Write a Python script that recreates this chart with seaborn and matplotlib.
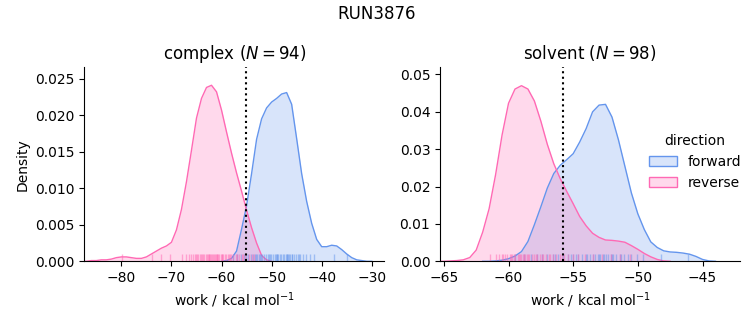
import matplotlib
matplotlib.use("Agg")
import matplotlib.pyplot as plt
from matplotlib.colors import to_rgba
from matplotlib.patches import Patch
import numpy as np
import pandas as pd
import seaborn as sns

# ---------------------------------------------------------------- data
directions = ["forward", "reverse"]
palette = {"forward": "cornflowerblue", "reverse": "hotpink"}

# complex phase: density curves (work in kcal/mol)
complex_reverse_x = list(range(-88, -49))
complex_reverse_density = [
    0.0000, 0.0000, 0.0001, 0.0001, 0.0002, 0.0002, 0.0003, 0.0005, 0.0006, 0.0006,
    0.0005, 0.0004, 0.0004, 0.0006, 0.0010, 0.0014, 0.0018, 0.0021, 0.0026, 0.0043,
    0.0071, 0.0109, 0.0152, 0.0196, 0.0223, 0.0238, 0.0241, 0.0232, 0.0207, 0.0177,
    0.0148, 0.0121, 0.0096, 0.0070, 0.0046, 0.0025, 0.0008, 0.0002, 0.0000,
]
complex_forward_x = list(range(-60, -29))
complex_forward_density = [
    0.0000, 0.0001, 0.0004, 0.0014, 0.0044, 0.0076, 0.0120, 0.0167, 0.0195, 0.0210,
    0.0218, 0.0223, 0.0229, 0.0231, 0.0215, 0.0168, 0.0120, 0.0082, 0.0052, 0.0030,
    0.0020, 0.0020, 0.0022, 0.0021, 0.0016, 0.0010, 0.0005, 0.0002, 0.0001, 0.0000,
    0.0000,
]

# solvent phase: density curves (half-unit steps)
solvent_reverse_x = [-65.5 + 0.5 * i for i in range(37)]
solvent_reverse_density = [
    0.0000, 0.0000, 0.0001, 0.0002, 0.0004, 0.0010, 0.0030, 0.0078, 0.0141, 0.0232,
    0.0338, 0.0423, 0.0461, 0.0470, 0.0461, 0.0429, 0.0375, 0.0313, 0.0261, 0.0221,
    0.0187, 0.0154, 0.0120, 0.0095, 0.0075, 0.0064, 0.0057, 0.0056, 0.0054, 0.0051,
    0.0042, 0.0032, 0.0021, 0.0012, 0.0005, 0.0001, 0.0000,
]
solvent_forward_x = [-62.0 + 0.5 * i for i in range(37)]
solvent_forward_density = [
    0.0000, 0.0000, 0.0001, 0.0003, 0.0007, 0.0014, 0.0026, 0.0053, 0.0098, 0.0146,
    0.0196, 0.0235, 0.0257, 0.0272, 0.0288, 0.0319, 0.0355, 0.0400, 0.0418, 0.0420,
    0.0386, 0.0325, 0.0254, 0.0183, 0.0127, 0.0085, 0.0052, 0.0037, 0.0028, 0.0025,
    0.0024, 0.0022, 0.0019, 0.0013, 0.0005, 0.0001, 0.0000,
]

# individual work values (rug)
complex_reverse_work = [
    -79.8, -73.8, -72.1, -70.3, -67.8, -67.0, -66.5, -66.1, -65.7, -65.3, -65.0,
    -64.8, -64.6, -64.3, -64.0, -63.9, -63.7, -63.5, -63.2, -63.0, -62.8, -62.6,
    -62.5, -62.3, -62.1, -61.9, -61.8, -61.6, -61.4, -61.2, -61.0, -60.9, -60.7,
    -60.5, -60.2, -60.0, -59.9, -59.7, -59.4, -59.1, -58.8, -58.5, -58.3, -58.1,
    -57.7, -57.2, -57.0, -56.6, -56.0, -55.8, -55.3, -54.6, -53.9, -53.6,
]
complex_forward_work = [
    -57.8, -56.9, -56.2, -55.6, -55.1, -54.7, -54.2, -53.8, -53.4, -53.2, -53.0,
    -52.6, -52.4, -52.2, -51.9, -51.5, -51.1, -50.8, -50.6, -50.4, -50.1, -49.7,
    -49.4, -49.2, -49.0, -48.9, -48.7, -48.4, -48.1, -47.8, -47.5, -47.2, -47.0,
    -46.9, -46.8, -46.6, -46.3, -46.0, -45.9, -45.6, -45.2, -44.8, -44.5, -44.3,
    -43.7, -43.1, -42.4, -41.6, -37.6, -34.9,
]
solvent_reverse_work = [
    -61.4, -61.0, -60.7, -60.5, -60.4, -60.3, -60.1, -59.9, -59.8, -59.7, -59.6,
    -59.5, -59.3, -59.2, -59.1, -59.0, -58.9, -58.8, -58.7, -58.6, -58.5, -58.4,
    -58.2, -58.0, -57.9, -57.8, -57.6, -57.4, -57.3, -57.1, -56.9, -56.8, -56.6,
    -56.3, -56.0, -55.9, -55.7, -55.4, -55.0, -54.6, -54.1, -53.5, -52.8, -52.1,
    -51.4, -50.6,
]
solvent_forward_work = [
    -59.5, -58.8, -58.3, -57.8, -57.4, -57.0, -56.6, -56.4, -56.2, -55.8, -55.4,
    -55.2, -55.0, -54.8, -54.6, -54.3, -54.0, -53.9, -53.7, -53.5, -53.3, -53.1,
    -53.0, -52.9, -52.7, -52.6, -52.5, -52.3, -52.1, -52.0, -51.9, -51.7, -51.4,
    -51.3, -51.1, -50.8, -50.5, -50.1, -49.6, -48.2, -46.1,
]

phases = ["complex", "solvent"]
n_samples = {"complex": 94, "solvent": 98}
mean_work = {"complex": -55.1, "solvent": -55.75}
xlims = {"complex": (-87.4, -27.5), "solvent": (-65.3, -42.1)}
ylims = {"complex": (0, 0.0266), "solvent": (0, 0.052)}

curves = pd.concat([
    pd.DataFrame({"phase": "complex", "direction": "forward",
                  "work": complex_forward_x, "density": complex_forward_density}),
    pd.DataFrame({"phase": "complex", "direction": "reverse",
                  "work": complex_reverse_x, "density": complex_reverse_density}),
    pd.DataFrame({"phase": "solvent", "direction": "forward",
                  "work": solvent_forward_x, "density": solvent_forward_density}),
    pd.DataFrame({"phase": "solvent", "direction": "reverse",
                  "work": solvent_reverse_x, "density": solvent_reverse_density}),
], ignore_index=True)

samples = pd.concat([
    pd.DataFrame({"phase": "complex", "direction": "forward", "work": complex_forward_work}),
    pd.DataFrame({"phase": "complex", "direction": "reverse", "work": complex_reverse_work}),
    pd.DataFrame({"phase": "solvent", "direction": "forward", "work": solvent_forward_work}),
    pd.DataFrame({"phase": "solvent", "direction": "reverse", "work": solvent_reverse_work}),
], ignore_index=True)

# ---------------------------------------------------------------- figure
W, H = 753, 325
fig = plt.figure(figsize=(W / 100, H / 100), dpi=100)
ax_bottom = (H - 261.3) / H
ax_height = (261.3 - 67.0) / H
axes = [
    fig.add_axes([84.3 / W, ax_bottom, 300.0 / W, ax_height]),
    fig.add_axes([440.0 / W, ax_bottom, 300.0 / W, ax_height]),
]

for ax, phase in zip(axes, phases):
    cdf = curves[curves["phase"] == phase]
    for d in directions:
        sub = cdf[cdf["direction"] == d]
        ax.fill_between(sub["work"], 0, sub["density"],
                        color=palette[d], alpha=0.25, linewidth=0)
    sns.lineplot(data=cdf, x="work", y="density", hue="direction",
                 hue_order=directions, palette=palette, linewidth=1.0,
                 sort=False, estimator=None, legend=False, ax=ax)
    sdf = samples[samples["phase"] == phase]
    sns.rugplot(data=sdf, x="work", hue="direction", hue_order=directions,
                palette=palette, height=0.04, alpha=0.5, linewidth=1.0,
                legend=False, ax=ax)
    ax.axvline(mean_work[phase], color="black", linestyle=":", linewidth=1.5)
    ax.set_xlim(*xlims[phase])
    ax.set_ylim(*ylims[phase])
    ax.set_title(f"{phase} ($N = {n_samples[phase]}$)", fontsize=12)
    ax.set_xlabel("work / kcal mol$^{-1}$")
    sns.despine(ax=ax)

axes[0].set_ylabel("Density")
axes[1].set_ylabel("")

handles = [Patch(facecolor=to_rgba(palette[d], 0.25), edgecolor=palette[d],
                 linewidth=1.0, label=d) for d in directions]
axes[1].legend(handles=handles, title="direction", frameon=False,
               loc="center", bbox_to_anchor=(0.85, 0.51))

fig.suptitle("RUN3876", fontsize=12, y=0.985)
fig.savefig("out.png", dpi=100)
